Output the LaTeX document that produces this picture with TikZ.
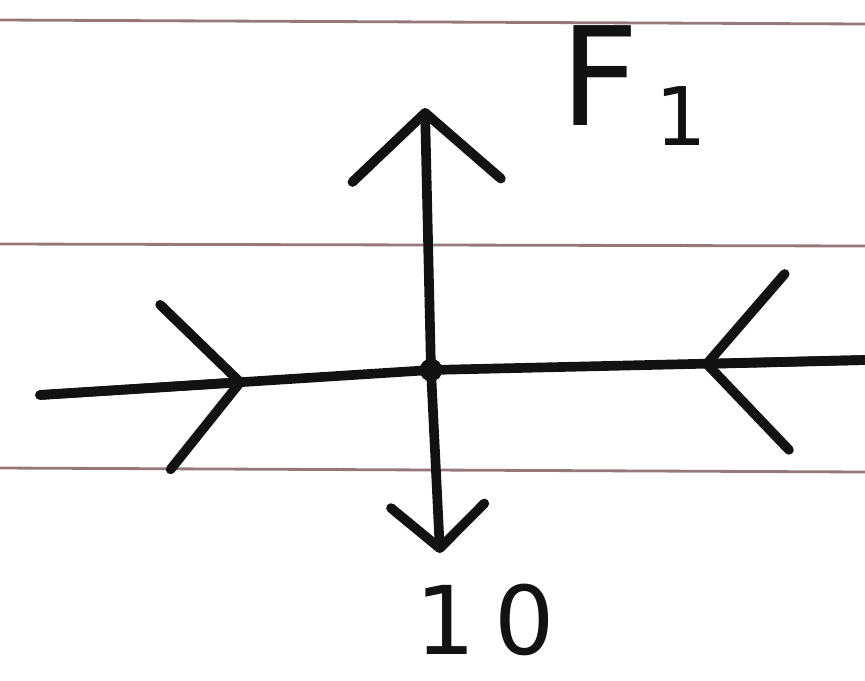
\documentclass[tikz,border=0pt]{standalone}
\usepackage{fontspec}
\setmainfont{DejaVu Sans}
\usetikzlibrary{arrows.meta}
\definecolor{ink}{RGB}{18,18,18}
\definecolor{rule}{RGB}{150,120,122}
\tikzset{
  pen/.style={draw=ink, line width=5.5pt, line cap=round, line join=round},
  ruled/.style={draw=rule, line width=1.6pt},
  barb/.style={-{Straight Barb[length=#1, width=2.2*#1, line width=5.5pt, round]}},
  lbl/.style={text=ink, inner sep=0pt},
}
\begin{document}
\begin{tikzpicture}[x=0.02cm, y=-0.02cm]
\useasboundingbox[fill=white] (0,0) rectangle (865,680);
% ruled paper lines
\draw[ruled] (0,20) -- (865,24);
\draw[ruled] (0,244) -- (865,246);
\draw[ruled] (0,468) -- (865,472);
% named points
\node[circle, fill=ink, inner sep=0pt, minimum size=13pt] (c) at (431,370) {};
\coordinate (top) at (425,108);
\coordinate (bot) at (440,553);
\coordinate (left) at (40,395);
\coordinate (right) at (865,360);
\coordinate (ml) at (245,382);
\coordinate (mr) at (702,364);
% lines
\draw[pen] (left) -- (c.center);
\draw[pen] (c.center) -- (right);
\draw[pen, barb=1.35cm] (c.center) -- (top);
\draw[pen, barb=0.85cm] (c.center) -- (bot);
\draw[pen, barb=1.5cm] (left) -- (ml);
\draw[pen, barb=1.6cm] (right) -- (mr);
% labels
\node[lbl, anchor=base west] (f1) at (560,125)
  {\fontsize{78}{80}\selectfont F\hspace{0.12em}\raisebox{-0.15em}{\fontsize{46}{46}\selectfont 1}};
\node[lbl, anchor=base] (ten) at (485,654) {\fontsize{54}{56}\selectfont 1\hspace{0.2em}0};
\end{tikzpicture}
\end{document}
